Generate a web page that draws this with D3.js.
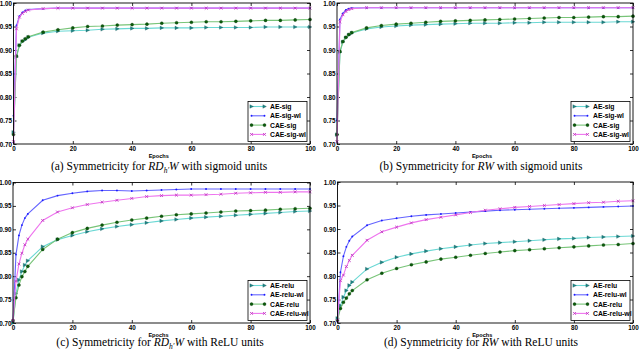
<!DOCTYPE html>
<html>
<head>
<meta charset="utf-8">
<script src="https://cdn.jsdelivr.net/npm/d3@7"></script>
<style>
  body { margin: 0; background: #fff; }
  .tick text { font-family: "Liberation Sans", Arial, sans-serif; font-weight: bold; font-size: 6.3px; fill: #000; }
  .tick line { stroke: #000; stroke-width: 0.8; }
  .domain { display: none; }
</style>
</head>
<body>
<svg id="fig" width="640" height="354"></svg>
<script>

// DATA

var epochs = [0, 1, 2, 3, 4, 5, 10, 15, 20, 25, 30, 35, 40, 45, 50, 55, 60, 65, 70, 75, 80, 85, 90, 95, 100];
var xTicks = [0, 20, 40, 60, 80, 100];
var yTicks = [0.70, 0.75, 0.80, 0.85, 0.90, 0.95, 1.00];
var sigNames = ["AE-sig", "AE-sig-wl", "CAE-sig", "CAE-sig-wl"];
var reluNames = ["AE-relu", "AE-relu-wl", "CAE-relu", "CAE-relu-wl"];

// (a) RD_h'W, sigmoid
var aAE     = [0.725, 0.885, 0.910, 0.918, 0.922, 0.927, 0.936, 0.940, 0.941, 0.942, 0.944, 0.945, 0.946, 0.946, 0.947, 0.947, 0.947, 0.948, 0.948, 0.948, 0.948, 0.949, 0.949, 0.949, 0.949];
var aAEwl   = [0.760, 0.952, 0.972, 0.980, 0.984, 0.986, 0.988, 0.989, 0.989, 0.989, 0.989, 0.989, 0.989, 0.989, 0.989, 0.989, 0.989, 0.989, 0.989, 0.989, 0.989, 0.989, 0.989, 0.989, 0.989];
var aCAE    = [0.720, 0.887, 0.910, 0.919, 0.924, 0.928, 0.938, 0.943, 0.947, 0.950, 0.951, 0.953, 0.954, 0.955, 0.957, 0.958, 0.959, 0.960, 0.960, 0.961, 0.962, 0.963, 0.963, 0.964, 0.965];
var aCAEwl  = [0.705, 0.945, 0.970, 0.978, 0.982, 0.985, 0.988, 0.989, 0.989, 0.989, 0.989, 0.989, 0.989, 0.989, 0.989, 0.989, 0.989, 0.989, 0.989, 0.989, 0.989, 0.989, 0.989, 0.989, 0.989];

// (b) RW, sigmoid
var bAE     = [0.720, 0.895, 0.917, 0.926, 0.932, 0.936, 0.945, 0.949, 0.951, 0.953, 0.954, 0.955, 0.956, 0.957, 0.957, 0.957, 0.958, 0.958, 0.959, 0.959, 0.959, 0.959, 0.959, 0.960, 0.960];
var bAEwl   = [0.750, 0.965, 0.978, 0.985, 0.988, 0.989, 0.990, 0.990, 0.990, 0.990, 0.990, 0.990, 0.990, 0.990, 0.990, 0.990, 0.990, 0.990, 0.990, 0.990, 0.990, 0.990, 0.990, 0.990, 0.990];
var bCAE    = [0.720, 0.897, 0.918, 0.927, 0.933, 0.937, 0.947, 0.952, 0.955, 0.957, 0.959, 0.961, 0.962, 0.963, 0.964, 0.965, 0.966, 0.967, 0.968, 0.969, 0.969, 0.970, 0.971, 0.971, 0.972];
var bCAEwl  = [0.705, 0.960, 0.975, 0.982, 0.986, 0.988, 0.990, 0.990, 0.990, 0.990, 0.990, 0.990, 0.990, 0.990, 0.990, 0.990, 0.990, 0.990, 0.990, 0.990, 0.990, 0.990, 0.990, 0.990, 0.990];

// (c) RD_h'W, ReLU
var cAE     = [0.700, 0.763, 0.792, 0.810, 0.824, 0.833, 0.863, 0.878, 0.887, 0.895, 0.901, 0.906, 0.910, 0.914, 0.918, 0.921, 0.924, 0.926, 0.928, 0.930, 0.932, 0.934, 0.936, 0.938, 0.939];
var cAEwl   = [0.705, 0.846, 0.887, 0.909, 0.924, 0.933, 0.962, 0.972, 0.977, 0.981, 0.983, 0.983, 0.982, 0.983, 0.984, 0.985, 0.986, 0.986, 0.986, 0.986, 0.986, 0.986, 0.986, 0.986, 0.986];
var cCAE    = [0.705, 0.754, 0.781, 0.799, 0.810, 0.821, 0.857, 0.879, 0.893, 0.902, 0.909, 0.915, 0.920, 0.924, 0.928, 0.931, 0.933, 0.935, 0.937, 0.939, 0.940, 0.941, 0.943, 0.944, 0.945];
var cCAEwl  = [0.705, 0.789, 0.826, 0.849, 0.867, 0.879, 0.919, 0.937, 0.946, 0.953, 0.958, 0.962, 0.966, 0.970, 0.972, 0.973, 0.973, 0.974, 0.975, 0.977, 0.978, 0.979, 0.979, 0.980, 0.980];

// (d) RW, ReLU
var dAE     = [0.710, 0.737, 0.755, 0.769, 0.780, 0.787, 0.815, 0.829, 0.840, 0.847, 0.853, 0.858, 0.862, 0.866, 0.869, 0.871, 0.873, 0.875, 0.877, 0.879, 0.880, 0.882, 0.883, 0.884, 0.885];
var dAEwl   = [0.705, 0.808, 0.842, 0.862, 0.875, 0.884, 0.908, 0.918, 0.923, 0.927, 0.930, 0.932, 0.934, 0.936, 0.938, 0.940, 0.941, 0.942, 0.943, 0.944, 0.945, 0.946, 0.947, 0.948, 0.949];
var dCAE    = [0.705, 0.731, 0.744, 0.753, 0.762, 0.769, 0.792, 0.806, 0.816, 0.824, 0.830, 0.836, 0.840, 0.844, 0.848, 0.851, 0.854, 0.856, 0.858, 0.860, 0.862, 0.864, 0.866, 0.867, 0.869];
var dCAEwl  = [0.705, 0.790, 0.802, 0.820, 0.833, 0.844, 0.876, 0.894, 0.904, 0.913, 0.920, 0.925, 0.930, 0.935, 0.940, 0.943, 0.946, 0.948, 0.950, 0.952, 0.954, 0.956, 0.957, 0.959, 0.960];

// STYLES (line colour, marker colour, marker kind) per series order AE, AE-wl, CAE, CAE-wl

var styles = [
  { line: "#6ad8d4", mark: "#1f8585", kind: "tri" },
  { line: "#6464ff", mark: "#1a1aff", kind: "dot" },
  { line: "#78c478", mark: "#0b5a0b", kind: "circle" },
  { line: "#ee74ee", mark: "#c23ac2", kind: "x" }
];

var panels = [
  { x0: 13.5, y0: 3,   x1: 310, y1: 144, series: [aAE, aAEwl, aCAE, aCAEwl], names: sigNames,  cap: ["(a)", "RDh", "sigmoid"], capX: 159, capY: 170 },
  { x0: 337,  y0: 3,   x1: 633, y1: 144, series: [bAE, bAEwl, bCAE, bCAEwl], names: sigNames,  cap: ["(b)", "RW",  "sigmoid"], capX: 481, capY: 170 },
  { x0: 13,   y0: 182.5, x1: 310, y1: 323, series: [cAE, cAEwl, cCAE, cCAEwl], names: reluNames, cap: ["(c)", "RDh", "ReLU"],    capX: 160, capY: 346 },
  { x0: 337.5, y0: 182, x1: 633, y1: 323, series: [dAE, dAEwl, dCAE, dCAEwl], names: reluNames, cap: ["(d)", "RW",  "ReLU"],    capX: 481, capY: 346 }
];

var svg = d3.select("#fig");

function drawMarker(g, kind, color, cx, cy) {
  if (kind == "tri") {
    g.append("path").attr("d", "M" + (cx - 1.6) + "," + (cy - 1.8) + "L" + (cx + 1.9) + "," + cy + "L" + (cx - 1.6) + "," + (cy + 1.8) + "Z")
      .attr("fill", color).attr("stroke", "#0d4f4f").attr("stroke-width", 0.3);
  } else if (kind == "dot") {
    g.append("circle").attr("cx", cx).attr("cy", cy).attr("r", 0.95).attr("fill", color);
  } else if (kind == "circle") {
    g.append("circle").attr("cx", cx).attr("cy", cy).attr("r", 1.55).attr("fill", color).attr("stroke", "#053005").attr("stroke-width", 0.3);
  } else {
    g.append("path").attr("d", "M" + (cx - 1.4) + "," + (cy - 1.4) + "L" + (cx + 1.4) + "," + (cy + 1.4) + "M" + (cx - 1.4) + "," + (cy + 1.4) + "L" + (cx + 1.4) + "," + (cy - 1.4))
      .attr("stroke", color).attr("stroke-width", 0.9);
  }
}

panels.forEach(function (p) {
  var x = d3.scaleLinear().domain([0, 100]).range([p.x0, p.x1]);
  var y = d3.scaleLinear().domain([0.70, 1.00]).range([p.y1, p.y0]);
  var g = svg.append("g");

  // axes with inward ticks on all sides
  g.append("g").attr("transform", "translate(0," + p.y1 + ")")
    .call(d3.axisBottom(x).tickValues(xTicks).tickSize(-3).tickPadding(3).tickFormat(d3.format("d")));
  g.append("g").attr("transform", "translate(0," + p.y0 + ")")
    .call(d3.axisTop(x).tickValues(xTicks).tickSize(-3).tickFormat(""));
  g.append("g").attr("transform", "translate(" + p.x0 + ",0)")
    .call(d3.axisLeft(y).tickValues(yTicks).tickSize(-3).tickPadding(1.5).tickFormat(d3.format(".2f")));
  g.append("g").attr("transform", "translate(" + p.x1 + ",0)")
    .call(d3.axisRight(y).tickValues(yTicks).tickSize(-3).tickFormat(""));

  var line = d3.line().x(function (d, i) { return x(epochs[i]); }).y(function (d) { return y(d); });

  p.series.forEach(function (vals, k) {
    var st = styles[k];
    g.append("path").datum(vals).attr("d", line)
      .attr("fill", "none").attr("stroke", st.line).attr("stroke-width", 1.1);
    var mg = g.append("g");
    vals.forEach(function (v, i) { drawMarker(mg, st.kind, st.mark, x(epochs[i]), y(v)); });
  });

  // frame
  g.append("rect").attr("x", p.x0).attr("y", p.y0).attr("width", p.x1 - p.x0).attr("height", p.y1 - p.y0)
    .attr("fill", "none").attr("stroke", "#000").attr("stroke-width", 0.9);

  // x label
  g.append("text").attr("x", (p.x0 + p.x1) / 2 - 3).attr("y", p.y1 + 13.5).attr("text-anchor", "middle")
    .style("font-family", "Liberation Sans, Arial, sans-serif").style("font-weight", "bold").style("font-size", "5.6px")
    .text("Epochs");

  // legend
  var lw = 59, lh = 40;
  var lx = p.x1 - 3 - lw, ly = p.y1 - 2.5 - lh;
  var lg = g.append("g");
  lg.append("rect").attr("x", lx).attr("y", ly).attr("width", lw).attr("height", lh)
    .attr("fill", "#fff").attr("stroke", "#000").attr("stroke-width", 0.8);
  p.names.forEach(function (nm, k) {
    var st = styles[k];
    var yy = ly + 5 + k * 9.3;
    lg.append("line").attr("x1", lx + 3.5).attr("x2", lx + 16.5).attr("y1", yy).attr("y2", yy)
      .attr("stroke", st.line).attr("stroke-width", 1.1);
    drawMarker(lg, st.kind, st.mark, lx + 3.5, yy);
    drawMarker(lg, st.kind, st.mark, lx + 16.5, yy);
    lg.append("text").attr("x", lx + 22).attr("y", yy + 2.4)
      .style("font-family", "Liberation Sans, Arial, sans-serif").style("font-weight", "bold").style("font-size", "6.8px")
      .text(nm);
  });

  // caption
  var t = g.append("text").attr("x", p.capX).attr("y", p.capY).attr("text-anchor", "middle")
    .style("font-family", "Liberation Serif, Times New Roman, serif").style("font-size", "11.5px");
  t.append("tspan").text(p.cap[0] + " Symmetricity for ");
  if (p.cap[1] == "RDh") {
    t.append("tspan").style("font-style", "italic").text("RD");
    t.append("tspan").style("font-style", "italic").style("font-size", "7.5px").attr("dy", 2.5).text("h\u2032");
    t.append("tspan").style("font-style", "italic").attr("dy", -2.5).text("W");
  } else {
    t.append("tspan").style("font-style", "italic").text("RW");
  }
  t.append("tspan").text(" with " + p.cap[2] + " units");
});

</script>
</body>
</html>
